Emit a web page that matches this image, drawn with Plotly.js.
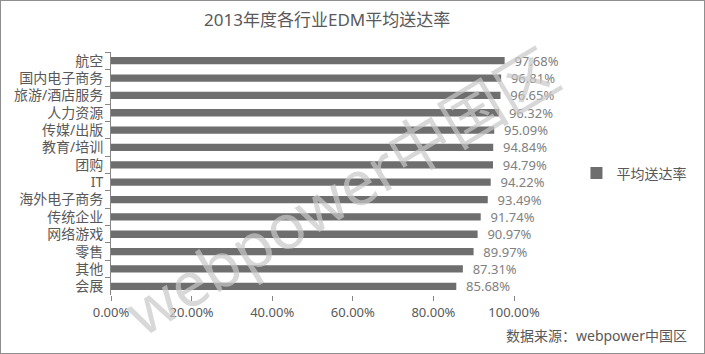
<!DOCTYPE html>
<html>
<head>
<meta charset="utf-8">
<script src="https://cdn.plot.ly/plotly-3.0.1.min.js"></script>
<style>
  html, body { margin: 0; padding: 0; background: #fff; }
  #chart { width: 703px; height: 352px; border: 1px solid #8f8f8f; }
</style>
</head>
<body>
<div id="chart"></div>
<script>
const categories = ["航空", "国内电子商务", "旅游/酒店服务", "人力资源", "传媒/出版", "教育/培训", "团购", "IT",
  "海外电子商务", "传统企业", "网络游戏", "零售", "其他", "会展"];
const rates = [97.68, 96.81, 96.65, 96.32, 95.09, 94.84, 94.79, 94.22, 93.49, 91.74, 90.97, 89.97, 87.31, 85.68];
const seriesName = "平均送达率";
const xTicks = [0, 20, 40, 60, 80, 100];
const xTickLabels = ["0.00%", "20.00%", "40.00%", "60.00%", "80.00%", "100.00%"];
const chartTitle = "2013年度各行业EDM平均送达率";
const sourceText = "数据来源：webpower中国区";
const watermarkText = "webpower中国区";

const FONT = "Noto Sans, Noto Sans CJK SC, sans-serif";

const trace = {
  type: "bar",
  orientation: "h",
  name: seriesName,
  y: categories,
  x: rates,
  marker: { color: "#6e6e6e" },
  text: rates.map(v => "  " + v.toFixed(2) + "%"),
  textposition: "outside",
  constraintext: "none",
  textfont: { family: FONT, size: 13, color: "#808080" },
  cliponaxis: false,
  hoverinfo: "y+x"
};

const layout = {
  width: 703,
  height: 352,
  margin: { l: 110, r: 186, t: 51, b: 58 },
  paper_bgcolor: "#ffffff",
  plot_bgcolor: "#ffffff",
  bargap: 0.58,
  font: { family: FONT, color: "#595959" },
  title: {
    text: chartTitle,
    font: { family: FONT, size: 17, color: "#595959" },
    x: 0.464, xref: "container", xanchor: "center",
    y: 0.945, yref: "container", yanchor: "middle"
  },
  xaxis: {
    range: [0, 100],
    tickvals: xTicks,
    ticktext: xTickLabels,
    showgrid: false,
    zeroline: false,
    showline: false,
    ticks: "outside",
    ticklen: 5,
    tickcolor: "#868686",
    tickfont: { family: FONT, size: 13, color: "#595959" },
    fixedrange: true
  },
  yaxis: {
    autorange: "reversed",
    type: "category",
    showgrid: false,
    zeroline: false,
    showline: true,
    linecolor: "#868686",
    linewidth: 1,
    ticks: "outside",
    tickson: "boundaries",
    ticklen: 5,
    tickcolor: "#868686",
    tickfont: { family: FONT, size: 14, color: "#595959" },
    ticklabelstandoff: 4,
    fixedrange: true
  },
  showlegend: true,
  legend: {
    x: 1.155, xanchor: "left",
    y: 0.5, yanchor: "middle",
    font: { family: FONT, size: 14, color: "#595959" },
    bgcolor: "rgba(0,0,0,0)"
  },
  annotations: [
    {
      text: sourceText,
      xref: "paper", yref: "paper",
      x: 1.435, y: -0.165,
      xanchor: "right", yanchor: "middle",
      showarrow: false,
      font: { family: FONT, size: 14, color: "#595959" }
    },
    {
      text: watermarkText,
      xref: "paper", yref: "paper",
      x: 0.57, y: 0.43,
      xanchor: "center", yanchor: "middle",
      showarrow: false,
      textangle: -31,
      font: { family: FONT, size: 62, color: "rgba(200,200,200,0.7)" }
    }
  ]
};

Plotly.newPlot("chart", [trace], layout, { displayModeBar: false, staticPlot: true });
</script>
</body>
</html>
